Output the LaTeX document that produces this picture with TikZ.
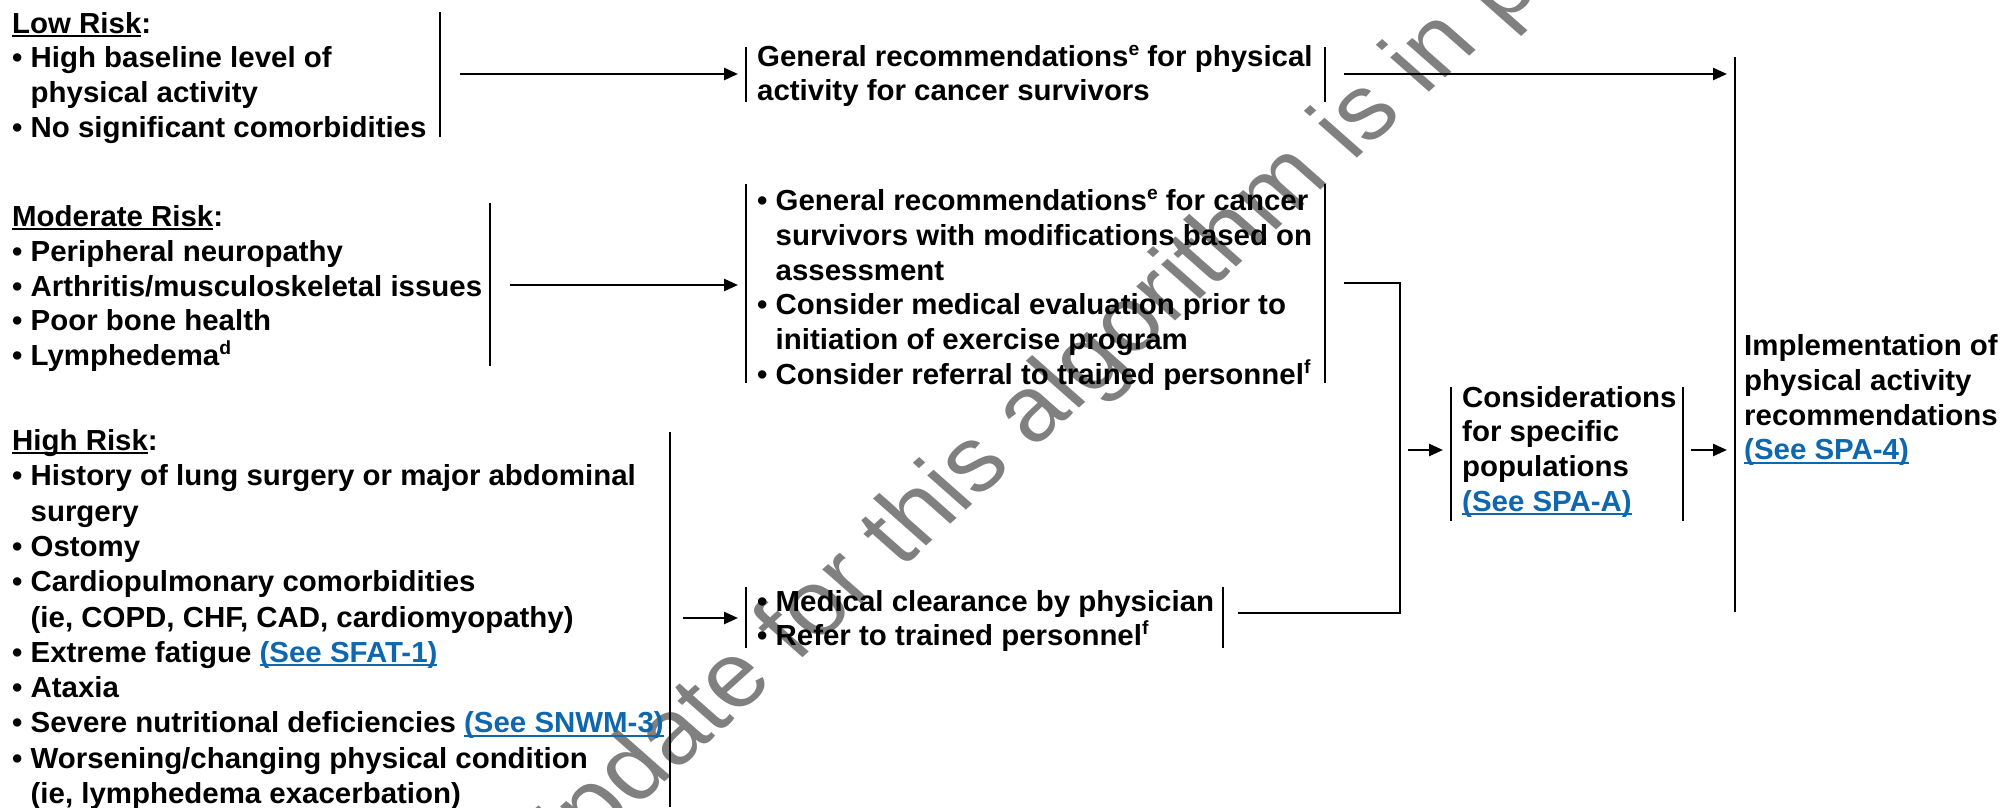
\documentclass[tikz,border=0pt]{standalone}
\usepackage{fontspec}
\setmainfont{Liberation Sans}[FakeStretch=1.015]
\newfontfamily\wmfont{Liberation Sans}
\usetikzlibrary{arrows.meta}

\definecolor{linkblue}{HTML}{0F67AE}
\definecolor{wmgray}{HTML}{808080}

% underline at a fixed depth below the baseline
\newcommand\undl[1]{\leavevmode\setbox0\hbox{#1}\rlap{\rule[-3.6pt]{\wd0}{2pt}}\box0}
% cross-reference link
\newcommand\lnk[1]{{\color{linkblue}\undl{#1}}}
% footnote-style superscript letter
\newcommand\sups[1]{\raisebox{11pt}{\fontsize{19}{19}\selectfont #1}}
% bullet item with hanging indent
\newlength\bulw
\newcommand\itm{\par\noindent\settowidth\bulw{•\space}\hangindent\bulw\hangafter1 •\space}
\newcommand\nl{\hfil\break}
% text block whose reference point is the first baseline
\newcommand\blk[2][34.8]{\parbox[t]{900pt}{\raggedright\fontsize{29}{#1}\selectfont\bfseries #2}}

\begin{document}
\begin{tikzpicture}[x=1pt,y=-1pt,
  txt/.style={inner sep=0pt,anchor=base west},
  bar/.style={line width=2.7pt},
  ln/.style={line width=2.5pt},
  arr/.style={line width=2.5pt,-{Triangle[length=14pt,width=12pt]}},
  wmark/.style={inner sep=0pt,text=wmgray,font=\wmfont\fontsize{92}{92}\selectfont}]

\useasboundingbox (0,0) rectangle (2003,807);
\fill[white] (0,0) rectangle (2003,807);

% watermark behind the chart
\begin{scope}
  \clip (0,0) rectangle (2003,807);
  \begin{scope}[shift={(1144,316)},xscale=1.12]
    \node[wmark,rotate=45.3,transform shape] (wm) at (0,0) {Update for this algorithm is in progress};
  \end{scope}
\end{scope}

% ---------- risk groups ----------
\node[txt] (lowT) at (12,33) {\blk{\undl{Low Risk}:
  \itm High baseline level of\nl physical activity
  \itm No significant comorbidities}};
\node[txt] (modT) at (12,226.5) {\blk{\undl{Moderate Risk}:
  \itm Peripheral neuropathy
  \itm Arthritis/musculoskeletal issues
  \itm Poor bone health
  \itm Lymphedema\sups{d}}};
\node[txt] (highT) at (12,450.5) {\blk[35.3]{\undl{High Risk}:
  \itm History of lung surgery or major abdominal\nl surgery
  \itm Ostomy
  \itm Cardiopulmonary comorbidities\nl (ie, COPD, CHF, CAD, cardiomyopathy)
  \itm Extreme fatigue \lnk{(See SFAT-1)}
  \itm Ataxia
  \itm Severe nutritional deficiencies \lnk{(See SNWM-3)}
  \itm Worsening/changing physical condition\nl (ie, lymphedema exacerbation)}};

\draw[bar] (440,12) -- (440,137);
\draw[bar] (490,203) -- (490,366);
\draw[bar] (670,432) -- (670,807);

% ---------- recommendations ----------
\node[txt] (gr1T) at (757,66) {\blk{General recommendations\sups{e} for physical\nl activity for cancer survivors}};
\node[txt] (gr2T) at (757,210.5) {\blk{%
  \itm General recommendations\sups{e} for cancer\nl survivors with modifications based on\nl assessment
  \itm Consider medical evaluation prior to\nl initiation of exercise program
  \itm Consider referral to trained personnel\sups{f}}};
\node[txt] (gr3T) at (757,611) {\blk{%
  \itm Medical clearance by physician
  \itm Refer to trained personnel\sups{f}}};

\draw[bar] (746,47) -- (746,102);   \draw[bar] (1325,47) -- (1325,102);
\draw[bar] (746,184) -- (746,383);  \draw[bar] (1325,184) -- (1325,383);
\draw[bar] (746,587) -- (746,648);  \draw[bar] (1223,587) -- (1223,648);

% ---------- specific populations and implementation ----------
\node[txt] (conT) at (1462,407) {\blk{Considerations\nl for specific\nl populations\nl \lnk{(See SPA-A)}}};
\draw[bar] (1451,387) -- (1451,521);  \draw[bar] (1683,387) -- (1683,521);

\node[txt] (impT) at (1744,355.5) {\blk{Implementation of\nl physical activity\nl recommendations\nl \lnk{(See SPA-4)}}};
\draw[bar] (1735,57) -- (1735,612);

% ---------- connectors ----------
\coordinate (lowOut) at (460,74);   \coordinate (gr1In) at (738,74);
\coordinate (modOut) at (510,285);  \coordinate (gr2In) at (738,285);
\coordinate (highOut) at (683,618); \coordinate (gr3In) at (738,618);
\coordinate (gr1Out) at (1344,74);  \coordinate (impIn1) at (1727,74);
\coordinate (gr2Out) at (1344,283); \coordinate (jTop) at (1400,283);
\coordinate (gr3Out) at (1238,613); \coordinate (jBot) at (1400,613);
\coordinate (jMid) at (1408,450);   \coordinate (conIn) at (1443,450);
\coordinate (conOut) at (1691,450); \coordinate (impIn2) at (1727,450);

\draw[arr] (lowOut) -- (gr1In);
\draw[arr] (modOut) -- (gr2In);
\draw[arr] (highOut) -- (gr3In);
\draw[arr] (gr1Out) -- (impIn1);
\draw[ln] (gr2Out) -- (jTop) -- (jBot) -- (gr3Out);
\draw[arr] (jMid) -- (conIn);
\draw[arr] (conOut) -- (impIn2);
\end{tikzpicture}
\end{document}
